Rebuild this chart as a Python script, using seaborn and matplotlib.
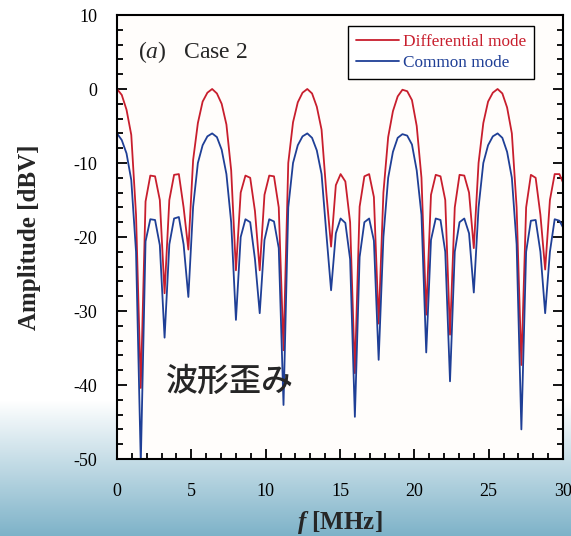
"""Differential vs common mode spectrum (Case 2), amplitude in dBV against frequency."""

import matplotlib

matplotlib.use("Agg")
import matplotlib.pyplot as plt
import numpy as np
import pandas as pd
import seaborn as sns
from matplotlib.ticker import MultipleLocator

# Frequency grid of the spectrum (MHz)
FREQ_MHZ = [
	0.00, 0.32, 0.64, 0.96, 1.28, 1.60, 1.92, 2.24, 2.56, 2.88,
	3.20, 3.52, 3.84, 4.16, 4.48, 4.80, 5.12, 5.44, 5.76, 6.08,
	6.40, 6.72, 7.04, 7.36, 7.68, 8.00, 8.32, 8.64, 8.96, 9.28,
	9.60, 9.92, 10.24, 10.56, 10.88, 11.20, 11.52, 11.84, 12.16, 12.48,
	12.80, 13.12, 13.44, 13.76, 14.08, 14.40, 14.72, 15.04, 15.36, 15.68,
	16.00, 16.32, 16.64, 16.96, 17.28, 17.60, 17.92, 18.24, 18.56, 18.88,
	19.20, 19.52, 19.84, 20.16, 20.48, 20.80, 21.12, 21.44, 21.76, 22.08,
	22.40, 22.72, 23.04, 23.36, 23.68, 24.00, 24.32, 24.64, 24.96, 25.28,
	25.60, 25.92, 26.24, 26.56, 26.88, 27.20, 27.52, 27.84, 28.16, 28.48,
	28.80, 29.12, 29.44, 29.76, 30.08,
]

DIFFERENTIAL_DBV = [
	0.0, -0.8, -2.8, -6.2, -17.0, -40.4, -15.2, -11.7, -11.8, -15.0,
	-27.6, -15.0, -11.6, -11.5, -16.0, -21.7, -9.6, -4.6, -1.7, -0.5,
	0.0, -0.6, -2.0, -4.8, -11.0, -24.5, -14.0, -11.7, -12.0, -16.5,
	-24.5, -14.3, -11.7, -11.8, -16.0, -35.3, -10.0, -4.5, -1.8, -0.5,
	0.0, -0.6, -2.4, -5.5, -14.0, -21.3, -13.0, -11.5, -12.5, -18.0,
	-38.4, -15.9, -11.8, -11.5, -14.6, -31.7, -14.0, -6.5, -3.0, -1.0,
	-0.1, -0.3, -1.5, -5.0, -12.0, -30.5, -14.3, -11.6, -11.8, -15.0,
	-33.2, -16.0, -11.6, -11.7, -14.0, -21.5, -10.0, -4.6, -1.7, -0.5,
	0.0, -0.6, -2.5, -6.0, -16.0, -37.3, -16.0, -11.6, -12.0, -17.0,
	-24.4, -15.0, -11.5, -11.5, -13.0,
]

COMMON_DBV = [
	-6.0, -6.9, -8.7, -12.3, -22.0, -50.5, -20.6, -17.6, -17.7, -21.1,
	-33.6, -21.0, -17.5, -17.3, -21.0, -28.1, -15.9, -10.0, -7.6, -6.4,
	-6.0, -6.5, -8.2, -11.5, -18.0, -31.2, -20.0, -17.6, -18.0, -23.0,
	-30.3, -20.4, -17.6, -17.9, -21.5, -42.7, -16.0, -10.0, -7.6, -6.4,
	-6.0, -6.6, -8.3, -11.5, -19.5, -27.2, -19.5, -17.5, -18.1, -23.0,
	-44.3, -22.7, -18.0, -17.5, -20.5, -36.6, -20.0, -12.0, -8.5, -6.6,
	-6.1, -6.3, -7.5, -11.0, -17.0, -35.6, -20.4, -17.5, -17.7, -22.0,
	-39.5, -22.0, -18.0, -17.5, -19.5, -27.5, -16.0, -10.0, -7.6, -6.4,
	-6.0, -6.6, -8.5, -12.0, -21.0, -46.0, -22.0, -17.8, -17.7, -22.0,
	-30.3, -22.0, -17.6, -17.8, -19.0,
]

MODES = ["Differential mode", "Common mode"]
COLOURS = {"Differential mode": "#c81e2d", "Common mode": "#1f3f96"}

sns.set_style("ticks")
plt.rcParams.update(
	{
		"font.family": ["Liberation Serif", "DejaVu Serif"],
		"mathtext.fontset": "custom",
		"mathtext.rm": "Liberation Serif",
		"mathtext.it": "Liberation Serif:italic",
		"mathtext.bf": "Liberation Serif:bold",
		"mathtext.bfit": "Liberation Serif:bold:italic",
		"axes.unicode_minus": False,
	}
)

df = pd.concat(
	[
		pd.DataFrame({"freq": FREQ_MHZ, "amp": DIFFERENTIAL_DBV, "mode": MODES[0]}),
		pd.DataFrame({"freq": FREQ_MHZ, "amp": COMMON_DBV, "mode": MODES[1]}),
	],
	ignore_index=True,
)

fig = plt.figure(figsize=(5.71, 5.36), dpi=100)
fig.patch.set_facecolor("white")

# pale blue slide gradient behind the lower part of the figure
rows = np.arange(536)
t = np.clip((rows - 400) / 136.0, 0, 1)
top = np.array([1.0, 1.0, 1.0])
bottom = np.array([125, 178, 200]) / 255.0
grad = (top + (bottom - top) * t[:, None])[:, None, :]
bg = fig.add_axes([0, 0, 1, 1], zorder=-1)
bg.imshow(grad, aspect="auto", extent=(0, 1, 0, 1))
bg.set_axis_off()

ax = fig.add_axes([117 / 571, 1 - 459 / 536, 446 / 571, 444 / 536])
ax.set_facecolor("#fffdfb")

sns.lineplot(
	data=df,
	x="freq",
	y="amp",
	hue="mode",
	hue_order=MODES,
	palette=COLOURS,
	estimator=None,
	sort=False,
	linewidth=1.3,
	ax=ax,
)

ax.set_xlim(0, 30)
ax.set_ylim(-50, 10)
ax.xaxis.set_major_locator(MultipleLocator(5))
ax.xaxis.set_minor_locator(MultipleLocator(1))
ax.yaxis.set_major_locator(MultipleLocator(10))
ax.yaxis.set_minor_locator(MultipleLocator(2))
ax.tick_params(which="both", direction="in", top=False, right=True, width=1.3,
	labelsize=13, colors="black")
ax.tick_params(which="major", length=7)
ax.tick_params(which="minor", length=4)
ax.tick_params(axis="y", pad=14)
ax.tick_params(axis="x", pad=17)
for spine in ax.spines.values():
	spine.set_linewidth(1.5)
	spine.set_color("black")

ax.set_xlabel(r"$\mathbfit{f}$ [MHz]", fontsize=18, fontweight="bold")
ax.set_ylabel("Amplitude [dBV]", fontsize=18, fontweight="bold")
ax.xaxis.set_label_coords(0.5, -0.113)
ax.yaxis.set_label_coords(-0.17, 0.5)

ax.text(1.4, 5.0, r"($\mathit{a}$)   Case 2", fontsize=17, ha="left", va="center")
ax.text(7.6, -39.6, "波形歪み", fontsize=23, fontweight="medium", ha="center",
	va="center", family=["Noto Sans CJK JP", "DejaVu Sans"])

sns.move_legend(
	ax,
	"upper right",
	bbox_to_anchor=(0.935, 0.975),
	borderaxespad=0,
	title=None,
	frameon=True,
	fancybox=False,
	fontsize=12.4,
	handlelength=2.5,
	handletextpad=0.25,
	labelspacing=0.3,
	borderpad=0.45,
	edgecolor="black",
	facecolor="white",
	framealpha=1,
)
leg = ax.get_legend()
leg.get_frame().set_linewidth(1.0)
for text, line in zip(leg.get_texts(), leg.get_lines()):
	text.set_color(line.get_color())

fig.savefig("out.png", dpi=100)
